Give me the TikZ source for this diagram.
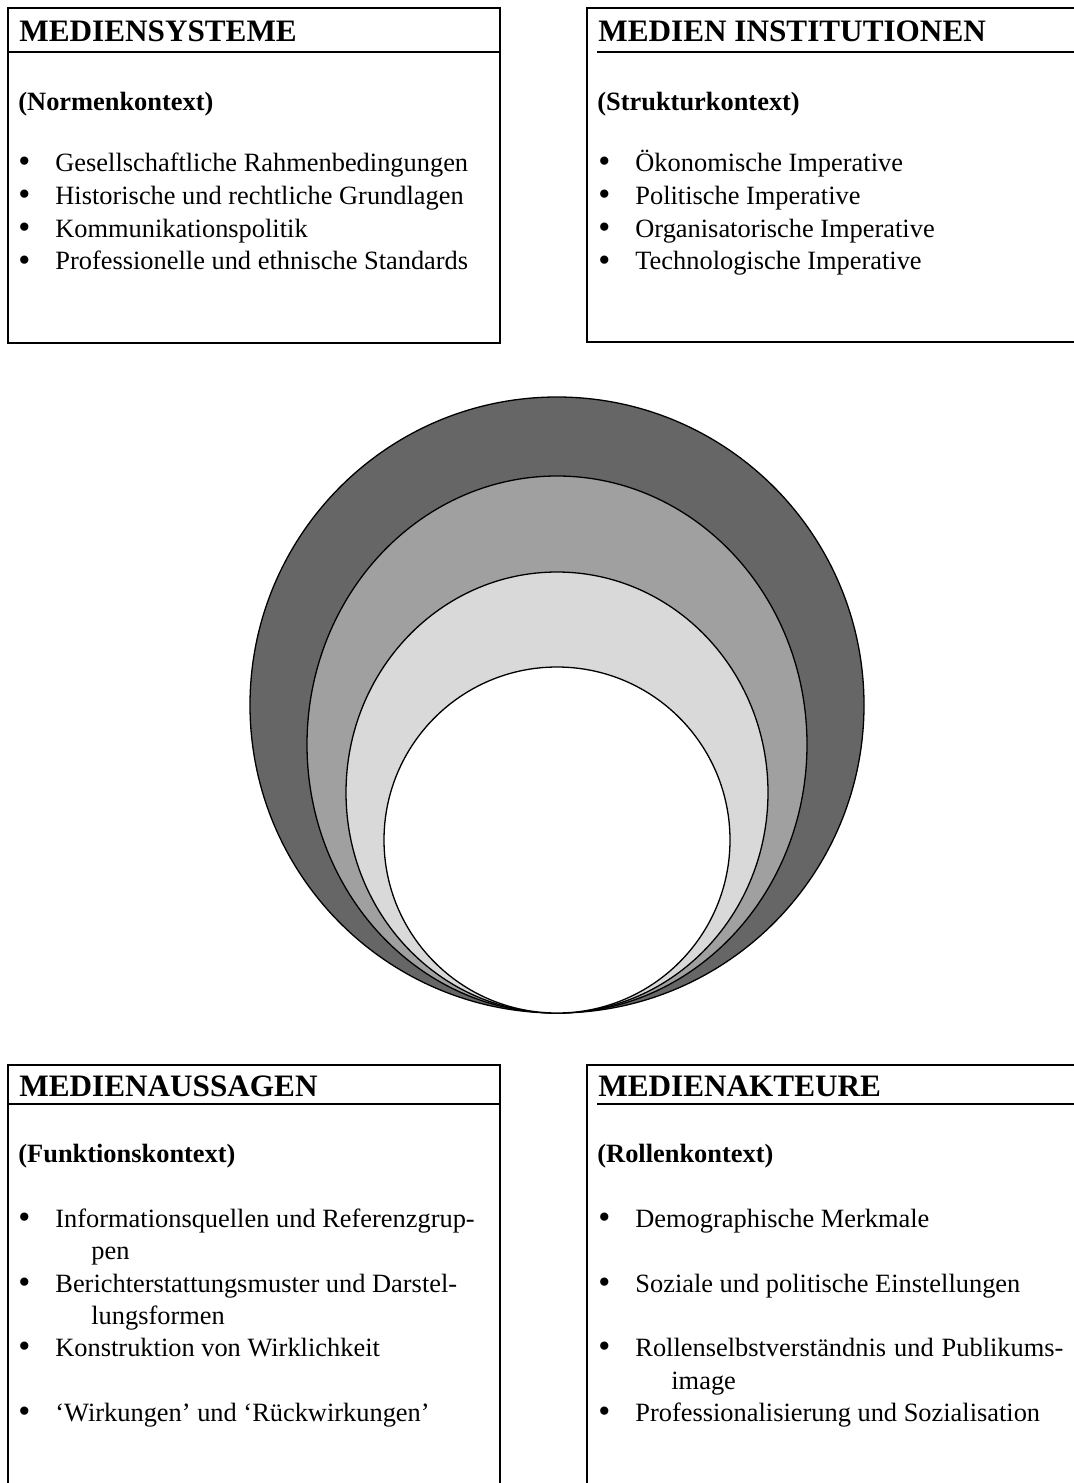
\documentclass[tikz,border=0pt]{standalone}
\usepackage{fontspec}
\setmainfont{Liberation Serif}
\definecolor{ringdark}{RGB}{102,102,102}
\definecolor{ringmid}{RGB}{160,160,160}
\definecolor{ringlight}{RGB}{217,217,217}
\newcommand{\bodyfont}{\fontsize{13.2pt}{16.4pt}\selectfont}
\newcommand{\titlefont}{\fontsize{15.6pt}{18pt}\selectfont\bfseries}
\newcommand{\bitem}[1]{\makebox[18.5pt][l]{\raisebox{-0.6pt}{\scalebox{1.3}{\textbullet}}}#1}
\tikzstyle{frame} = [draw, line width=1.3pt]
\tikzstyle{headline} = [draw, line width=0.8pt]
\tikzstyle{ring} = [draw, line width=0.65pt]
\tikzstyle{title} = [anchor=base west, inner sep=0pt, font=\titlefont]
\tikzstyle{context} = [anchor=base west, inner sep=0pt, font=\bodyfont\bfseries]
\tikzstyle{item} = [anchor=base west, inner sep=0pt, font=\bodyfont]

\begin{document}
\begin{tikzpicture}[x=0.5pt, y=-0.5pt]
  \useasboundingbox (0,0) rectangle (1074,1483);
  \clip (0,0) rectangle (1074,1483);
  \path [frame] (8,8) rectangle (500,343);
  \path [headline] (8,52) -- (500,52);
  \path [frame] (587,8) rectangle (1090,342);
  \path [headline] (597,52) -- (1090,52);
  \path [frame] (8,1065) rectangle (500,1520);
  \path [headline] (8,1104) -- (500,1104);
  \path [frame] (587,1065) rectangle (1090,1520);
  \path [headline] (597,1104) -- (1090,1104);

  \path [ring, fill=ringdark] (557,705) ellipse [x radius=307, y radius=308];
  \path [ring, fill=ringmid] (557,744.5) ellipse [x radius=250, y radius=268.5];
  \path [ring, fill=ringlight] (557,792.5) ellipse [x radius=211, y radius=220.5];
  \path [ring, fill=white] (557,840) circle [radius=173];

  \node [title] (sys_title) at (19,41.5) {MEDIENSYSTEME};
  \node [context] (sys_context) at (18,110.5) {(Normenkontext)};
  \node [item] (sys_item1) at (18,171.5) {\bitem{Gesellschaftliche Rahmenbedingungen}};
  \node [item] (sys_item2) at (18,204.3) {\bitem{Historische und rechtliche Grundlagen}};
  \node [item] (sys_item3) at (18,237) {\bitem{Kommunikationspolitik}};
  \node [item] (sys_item4) at (18,269.8) {\bitem{Professionelle und ethnische Standards}};

  \node [title] (inst_title) at (598,41.5) {MEDIEN INSTITUTIONEN};
  \node [context] (inst_context) at (597,110.5) {(Strukturkontext)};
  \node [item] (inst_item1) at (598,171.5) {\bitem{Ökonomische Imperative}};
  \node [item] (inst_item2) at (598,204.3) {\bitem{Politische Imperative}};
  \node [item] (inst_item3) at (598,237) {\bitem{Organisatorische Imperative}};
  \node [item] (inst_item4) at (598,269.8) {\bitem{Technologische Imperative}};

  \node [title] (aus_title) at (19,1096) {MEDIENAUSSAGEN};
  \node [context] (aus_context) at (18,1162) {(Funktionskontext)};
  \node [item] (aus_item1) at (18,1227.5) {\bitem{Informationsquellen und Referenzgrup-}};
  \node [item] (aus_item1b) at (91,1259.8) {pen};
  \node [item] (aus_item2) at (18,1292.1) {\bitem{Berichterstattungsmuster und Darstel-}};
  \node [item] (aus_item2b) at (91,1324.4) {lungsformen};
  \node [item] (aus_item3) at (18,1356.7) {\bitem{Konstruktion von Wirklichkeit}};
  \node [item] (aus_item4) at (18,1421.3) {\bitem{‘Wirkungen’ und ‘Rückwirkungen’}};

  \node [title] (akt_title) at (598,1096) {MEDIENAKTEURE};
  \node [context] (akt_context) at (597,1162) {(Rollenkontext)};
  \node [item] (akt_item1) at (598,1227.5) {\bitem{Demographische Merkmale}};
  \node [item] (akt_item2) at (598,1292.1) {\bitem{Soziale und politische Einstellungen}};
  \node [item] (akt_item3) at (598,1356.7)
    {\bitem{\makebox[214pt][s]{Rollenselbstverständnis und Publikums-}}};
  \node [item] (akt_item3b) at (671,1389) {image};
  \node [item] (akt_item4) at (598,1421.3) {\bitem{Professionalisierung und Sozialisation}};
\end{tikzpicture}
\end{document}
